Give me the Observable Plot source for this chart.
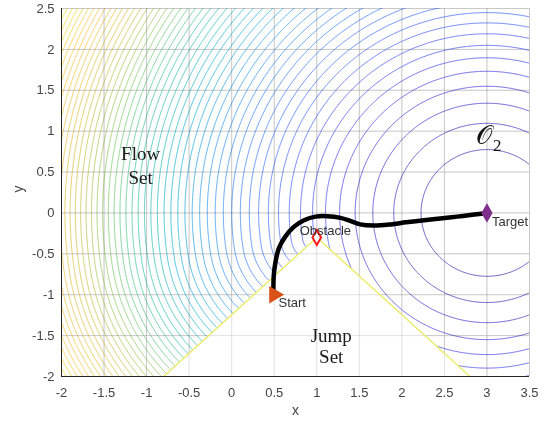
<!DOCTYPE html>
<html><head><meta charset="utf-8">
<script src="https://cdn.jsdelivr.net/npm/d3@7"></script>
<script src="https://cdn.jsdelivr.net/npm/@observablehq/plot@0.6"></script>
<style>body{margin:0;background:#fff}</style>
</head><body><div id="chart"></div>
<script>
// ---- data ----
const xTicks = [-2, -1.5, -1, -0.5, 0, 0.5, 1, 1.5, 2, 2.5, 3, 3.5];
const yTicks = [-2, -1.5, -1, -0.5, 0, 0.5, 1, 1.5, 2, 2.5];
const target = [3, 0];
const obstacle = [1, -0.3];
const start = [0.5, -1];
// jump set boundary (V shape below the obstacle)
const jumpX = [-0.8, 1, 2.8];
const jumpY = [-2, -0.3, -2];
// trajectory
const trajX = [0.49, 0.49, 0.495, 0.515, 0.555, 0.63, 0.73, 0.85, 0.985, 1.12, 1.28, 1.40, 1.51, 1.67, 1.87, 2.05, 2.26, 2.45, 2.65, 2.85, 3.0];
const trajY = [-1.0, -0.94, -0.76, -0.6, -0.43, -0.29, -0.17, -0.09, -0.045, -0.04, -0.06, -0.10, -0.14, -0.155, -0.14, -0.115, -0.09, -0.068, -0.045, -0.02, 0.0];
// contour levels of the squared (obstacle-aware) distance to the target
const levelStep = 0.6;
const levelMax = 34;
// parula colour map stops
const parula = ["#3E26A8", "#4746EB", "#3F6FFA", "#2F90F0", "#15B2D6", "#33C49C", "#8CC95A", "#D8BE3A", "#FDC03B", "#F5E328", "#F9FB0E"];

// ---- field: distance to target, going round the obstacle corner when it is hidden ----
function field(x, y) {
  const [tx, ty] = target, [ax, ay] = obstacle;
  let blocked = false;
  if (x < ax) {
    const yc = y + (ty - y) * (ax - x) / (tx - x);
    blocked = yc < ay;
  }
  const d = blocked ? Math.hypot(x - ax, y - ay) + Math.hypot(tx - ax, ty - ay) : Math.hypot(x - tx, y - ty);
  return d * d;
}

const levels = d3.range(levelStep, levelMax, levelStep);
const gx0 = -2.05, gx1 = 3.55, gy0 = -2.05, gy1 = 2.55, st = 0.01;
const nx = Math.round((gx1 - gx0) / st) + 1, ny = Math.round((gy1 - gy0) / st) + 1;
const values = new Float64Array(nx * ny);
for (let j = 0; j < ny; j++) for (let i = 0; i < nx; i++) values[j * nx + i] = field(gx0 + i * st, gy0 + j * st);
const cs = d3.contours().size([nx, ny]).thresholds(levels)(values);
const rows = [];
let id = 0;
for (const c of cs) for (const poly of c.coordinates) for (const ring of poly) {
  for (const [cx, cy] of ring) rows.push({x: gx0 + (cx - 0.5) * st, y: gy0 + (cy - 0.5) * st, v: c.value, id});
  id++;
}

const traj = trajX.map((x, i) => ({x, y: trajY[i]}));
const jump = jumpX.map((x, i) => ({x, y: jumpY[i]}));

const serif = "'Liberation Serif', 'Times New Roman', serif";
const sans = "'Liberation Sans', Arial, sans-serif";

const chart = Plot.plot({
  width: 547, height: 426,
  marginLeft: 61, marginRight: 18, marginTop: 8, marginBottom: 50,
  style: {fontSize: "13px", fontFamily: sans, color: "#444", background: "white"},
  x: {domain: [-2, 3.5], ticks: xTicks, tickFormat: d => String(d), tickSize: 0, tickPadding: 11, label: null},
  y: {domain: [-2, 2.5], ticks: yTicks, tickFormat: d => String(d), tickSize: 0, tickPadding: 7, label: null},
  color: {type: "linear", domain: [0, 34], interpolate: d3.piecewise(d3.interpolateRgb, parula)},
  marks: [
    Plot.ruleX(xTicks, {stroke: "#e2e2e2"}),
    Plot.ruleY(yTicks, {stroke: "#e2e2e2"}),
    Plot.line(rows, {x: "x", y: "y", z: "id", stroke: "v", strokeWidth: 0.9, strokeOpacity: 0.85, clip: true}),
    Plot.areaY(jump, {x: "x", y1: -2, y2: "y", fill: "white"}),
    Plot.ruleX(xTicks, {stroke: "#e2e2e2", mixBlendMode: "multiply"}),
    Plot.ruleY(yTicks, {stroke: "#e2e2e2", mixBlendMode: "multiply"}),
    Plot.line(jump, {x: "x", y: "y", stroke: "#ecec6e", strokeWidth: 1.5}),
    Plot.ruleX([-2], {stroke: "#262626"}),
    Plot.ruleY([-2], {stroke: "#262626"}),
    Plot.line(traj, {x: "x", y: "y", stroke: "black", strokeWidth: 4.5, curve: "catmull-rom"}),
    Plot.dot([start], {x: d => d[0], y: d => d[1], symbol: "triangle", rotate: 90, r: 5.5, fill: "#D95319", stroke: "#D95319"}),
    Plot.dot([obstacle], {x: d => d[0], y: d => d[1], symbol: "diamond", r: 4.5, fill: "white", stroke: "#ff1a1a", strokeWidth: 2}),
    Plot.dot([target], {x: d => d[0], y: d => d[1], symbol: "diamond", r: 5, fill: "#7E2F8E", stroke: "#7E2F8E"}),
    Plot.text(["Start"], {x: 0.55, y: -1.1, text: d => d, textAnchor: "start", fontSize: 13, fill: "#333"}),
    Plot.text(["Obstacle"], {x: 0.80, y: -0.22, text: d => d, textAnchor: "start", fontSize: 13, fill: "#333"}),
    Plot.text(["Target"], {x: 3.06, y: -0.106, text: d => d, textAnchor: "start", fontSize: 13, fill: "#333"}),
    Plot.text(["Flow\nSet"], {x: -1.07, y: 0.59, text: d => d, fontSize: 19, fontFamily: serif, lineHeight: 1.25, fill: "#1a1a1a"}),
    Plot.text(["Jump\nSet"], {x: 1.17, y: -1.62, text: d => d, fontSize: 19, fontFamily: serif, lineHeight: 1.15, fill: "#1a1a1a"}),
    Plot.text(["𝒪"], {x: 2.97, y: 0.95, text: d => d, fontSize: 26, fontFamily: "'DejaVu Serif', 'DejaVu Sans', serif", fill: "#111"}),
    Plot.text(["2"], {x: 3.12, y: 0.83, text: d => d, fontSize: 17, fontFamily: serif, fill: "#111"}),
    Plot.text(["x"], {frameAnchor: "bottom", dy: 38, text: d => d, fontSize: 14, fill: "#444"}),
    Plot.text(["y"], {frameAnchor: "left", dx: -43, rotate: -90, text: d => d, fontSize: 14, fill: "#444"})
  ]
});
document.getElementById("chart").appendChild(chart);
</script>
</body></html>
